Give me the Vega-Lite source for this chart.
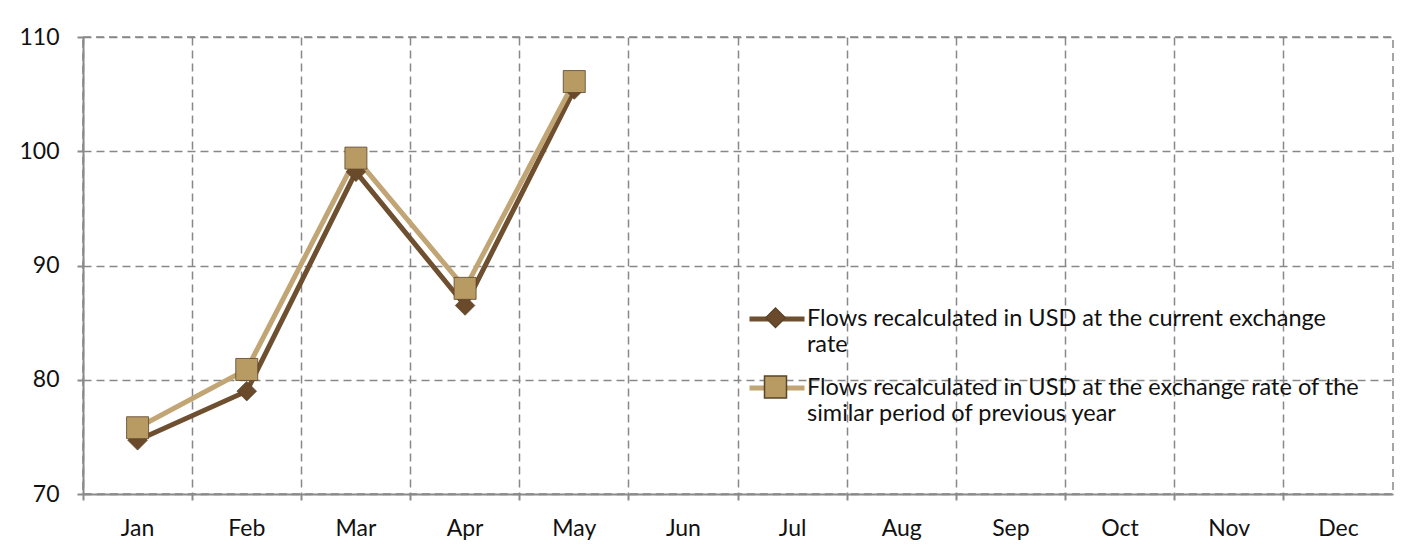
{
  "$schema": "https://vega.github.io/schema/vega-lite/v6.json",
  "width": 1310,
  "height": 457,
  "autosize": {"type": "none"},
  "padding": {"left": 83, "top": 37, "right": 21, "bottom": 55},
  "background": "white",
  "config": {
    "font": "Lato",
    "view": {"stroke": "#888888", "strokeDash": [8, 5], "strokeWidth": 1.5},
    "axis": {
      "labelFont": "Lato", "labelFontSize": 23, "labelColor": "#111111",
      "domainColor": "#8a8a8a", "domainWidth": 2,
      "tickColor": "#8a8a8a", "tickWidth": 2, "tickSize": 6,
      "gridColor": "#888888", "gridDash": [8, 5], "gridWidth": 1.5,
      "title": null
    },
    "legend": {
      "title": null,
      "orient": "none",
      "labelFont": "Lato",
      "labelFontSize": 23.5,
      "labelColor": "#111111",
      "labelLimit": 800,
      "labelOffset": 0
    }
  },
  "data": {
    "values": [
      {"month": "Jan", "series": "Flows recalculated in USD at the current exchange rate", "value": 74.7},
      {"month": "Feb", "series": "Flows recalculated in USD at the current exchange rate", "value": 79.0},
      {"month": "Mar", "series": "Flows recalculated in USD at the current exchange rate", "value": 98.2},
      {"month": "Apr", "series": "Flows recalculated in USD at the current exchange rate", "value": 86.5},
      {"month": "May", "series": "Flows recalculated in USD at the current exchange rate", "value": 105.4},
      {"month": "Jan", "series": "Flows recalculated in USD at the exchange rate of the similar period of previous year", "value": 75.8},
      {"month": "Feb", "series": "Flows recalculated in USD at the exchange rate of the similar period of previous year", "value": 80.9},
      {"month": "Mar", "series": "Flows recalculated in USD at the exchange rate of the similar period of previous year", "value": 99.4},
      {"month": "Apr", "series": "Flows recalculated in USD at the exchange rate of the similar period of previous year", "value": 88.0},
      {"month": "May", "series": "Flows recalculated in USD at the exchange rate of the similar period of previous year", "value": 106.1}
    ]
  },
  "encoding": {
    "x": {
      "field": "month", "type": "nominal", "sort": null,
      "scale": {"type": "band", "domain": ["Jan","Feb","Mar","Apr","May","Jun","Jul","Aug","Sep","Oct","Nov","Dec"], "paddingInner": 0, "paddingOuter": 0},
      "axis": {"bandPosition": 0, "labelAngle": 0, "labelPadding": 17, "grid": true}
    },
    "y": {
      "field": "value", "type": "quantitative",
      "scale": {"domain": [70, 110], "nice": false, "zero": false},
      "axis": {"values": [70, 80, 90, 100, 110], "labelPadding": 18, "grid": true}
    }
  },
  "layer": [
    {
      "mark": {"type": "line", "strokeWidth": 5},
      "encoding": {
        "color": {
          "field": "series", "type": "nominal",
          "scale": {
            "domain": ["Flows recalculated in USD at the current exchange rate", "Flows recalculated in USD at the exchange rate of the similar period of previous year"],
            "range": ["#6e4f2f", "#c2a575"]
          },
          "legend": {
            "legendX": 664,
            "legendY": 252,
            "rowPadding": 2,
            "symbolType": "stroke",
            "symbolSize": 3025,
            "symbolStrokeWidth": 5,
            "labelExpr": "datum.label == 'Flows recalculated in USD at the current exchange rate' ? ['Flows recalculated in USD at the current exchange', 'rate'] : ['Flows recalculated in USD at the exchange rate of the', 'similar period of previous year']"
          }
        }
      }
    },
    {
      "mark": {"type": "point", "filled": true, "opacity": 1, "stroke": "#5a4428", "strokeWidth": 0.8},
      "encoding": {
        "shape": {
          "field": "series", "type": "nominal",
          "scale": {"range": ["diamond", "square"]}
        },
        "size": {"field": "series", "type": "nominal", "scale": {"range": [380, 484]}},
        "fill": {
          "field": "series", "type": "nominal",
          "scale": {"range": ["#6b4a2b", "#b89b63"]},
          "legend": {
            "legendX": 680.5,
            "legendY": 269,
            "rowPadding": 18,
            "labelExpr": "[' ', ' ']"
          }
        }
      }
    }
  ]
}
